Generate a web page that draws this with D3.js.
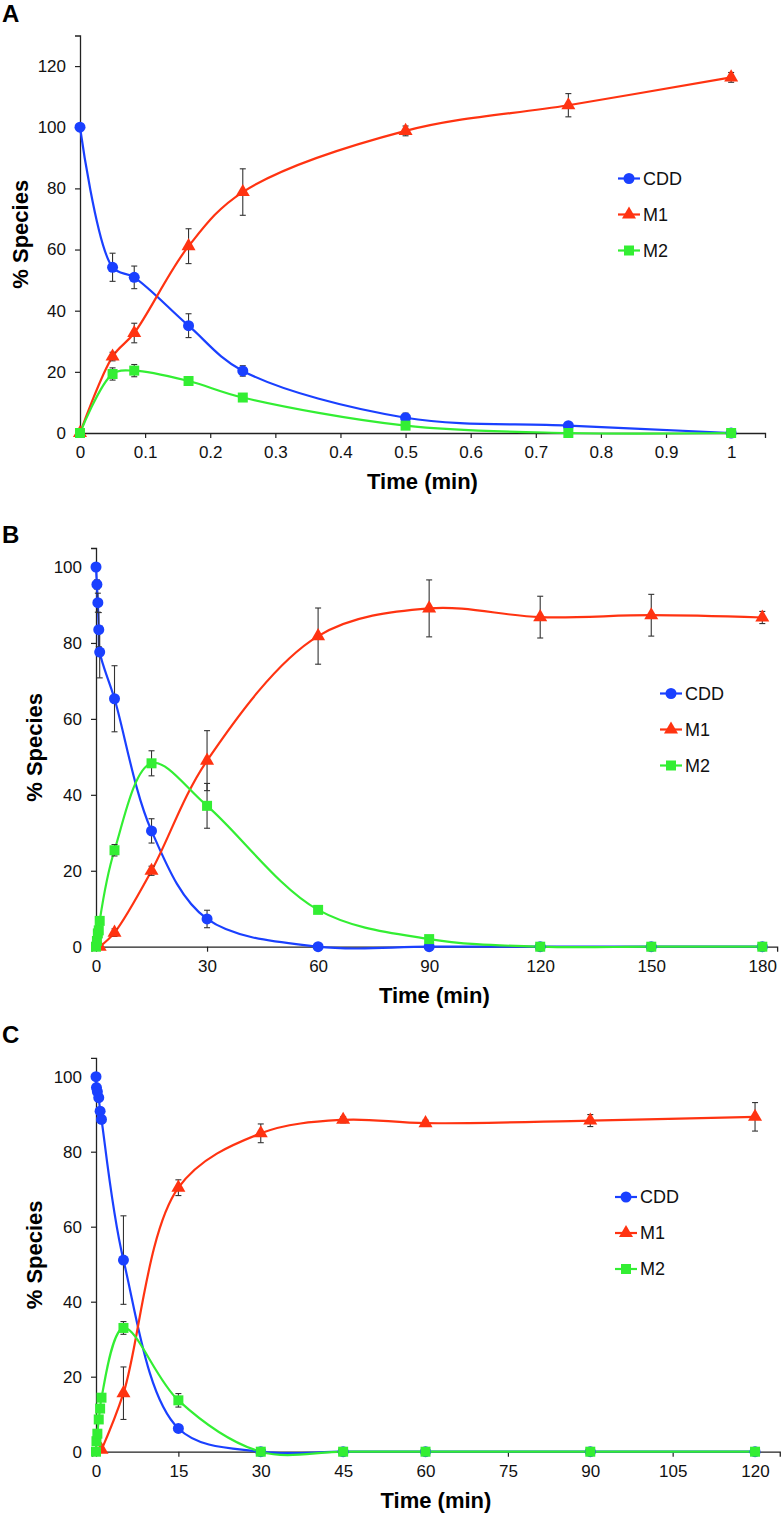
<!DOCTYPE html>
<html><head><meta charset="utf-8">
<script src="https://cdn.jsdelivr.net/npm/d3@7"></script>
<style>
html,body{margin:0;padding:0;background:#fff;}
svg{display:block;font-family:"Liberation Sans",Arial,sans-serif;}
</style></head>
<body>
<svg id="chart" width="782" height="1516"></svg>
<script>
// ---------- DATA ----------
const seriesNames = ["CDD", "M1", "M2"];

// Panel A
const timeA = [0, 0.05, 0.0833, 0.1667, 0.25, 0.5, 0.75, 1];
const cddA = [100, 54.2, 50.9, 35.1, 20.3, 5.0, 2.4, 0];
const cddErrA = [0, 4.6, 3.7, 3.9, 1.7, 1.5, 0.6, 0];
const m1A = [0, 25.0, 32.7, 61.1, 78.8, 98.8, 107.2, 116.3];
const m1ErrA = [0, 1.4, 3.2, 5.7, 7.6, 1.6, 3.8, 1.6];
const m2A = [0, 19.3, 20.4, 17.0, 11.6, 2.4, 0, 0];
const m2ErrA = [0, 2.0, 2.0, 1.0, 1.0, 0.5, 0, 0];
const xTicksA = [0, 0.1, 0.2, 0.3, 0.4, 0.5, 0.6, 0.7, 0.8, 0.9, 1];
const xTickLabelsA = ["0", "0.1", "0.2", "0.3", "0.4", "0.5", "0.6", "0.7", "0.8", "0.9", "1"];
const yTicksA = [0, 20, 40, 60, 80, 100, 120];

// Panel B
const timeB = [0, 0.25, 0.5, 0.75, 1, 5, 15, 30, 60, 90, 120, 150, 180];
const cddB = [100, 95.4, 90.6, 83.5, 77.6, 65.3, 30.5, 7.3, 0, 0, 0, 0, 0];
const cddErrB = [0, 1.2, 2.5, 4.5, 6.8, 8.7, 3.2, 2.3, 0, 0, 0, 0, 0];
const m1B = [null, null, null, null, 0, 3.7, 20.0, 49.0, 81.8, 89.1, 86.8, 87.3, 86.7];
const m1ErrB = [0, 0, 0, 0, 0, 1.0, 1.2, 7.9, 7.4, 7.5, 5.5, 5.5, 1.6];
const m2B = [0, 1.5, 3.5, 4.3, 6.8, 25.4, 48.3, 37.1, 9.7, 2.0, 0, 0, 0];
const m2ErrB = [0, 0.5, 0.8, 1.0, 1.0, 1.5, 3.3, 5.9, 0.8, 0.5, 0, 0, 0];
const xTicksB = [0, 30, 60, 90, 120, 150, 180];
const yTicksB = [0, 20, 40, 60, 80, 100];

// Panel C
const timeC = [0, 0.083, 0.25, 0.5, 0.75, 1, 5, 15, 30, 45, 60, 90, 120];
const cddC = [100, 97.1, 96.0, 94.4, 90.8, 88.6, 51.1, 6.2, 0, 0, 0, 0, 0];
const cddErrC = [0, 0, 0.5, 0.5, 1.0, 1.0, 11.8, 0.6, 0, 0, 0, 0, 0];
const m1C = [null, null, null, null, null, 0.5, 15.6, 70.4, 84.9, 88.5, 87.6, 88.3, 89.3];
const m1ErrC = [0, 0, 0, 0, 0, 0, 7.0, 2.1, 2.5, 0.8, 0.8, 1.6, 3.8];
const m2C = [0, 2.8, 4.8, 8.6, 11.5, 14.4, 33.0, 13.7, 0, 0, 0, 0, 0];
const m2ErrC = [0, 0, 0, 0, 0, 0.5, 1.7, 1.8, 0, 0, 0, 0, 0];
const xTicksC = [0, 15, 30, 45, 60, 75, 90, 105, 120];
const yTicksC = [0, 20, 40, 60, 80, 100];

// ---------- STYLE ----------
const colors = {CDD: "#1a40ff", M1: "#ff3311", M2: "#33ee33"};
const shapes = {CDD: d3.symbolCircle, M1: d3.symbolTriangle, M2: d3.symbolSquare};
const sizes = {CDD: 95, M1: 85, M2: 100};
const axisColor = "#222";
const errColor = "#333";

const svg = d3.select("#chart");

function drawPanel(cfg) {
  const g = svg.append("g");
  const x = d3.scaleLinear().domain(cfg.xDomain).range(cfg.xRange);
  const y = d3.scaleLinear().domain(cfg.yDomain).range(cfg.yRange);

  // panel letter
  g.append("text").attr("x", cfg.letterPos[0]).attr("y", cfg.letterPos[1])
    .attr("font-size", 24).attr("font-weight", "bold").attr("fill", "#000").text(cfg.letter);

  // axes
  const yAxis = d3.axisLeft(y).tickValues(cfg.yTicks).tickSizeOuter(0).tickSize(5).tickPadding(9)
    .tickFormat(d3.format("d"));
  const ya = g.append("g").attr("transform", `translate(${x(0)},0)`).call(yAxis);
  ya.select(".domain").attr("stroke", axisColor).attr("stroke-width", 1.3);
  ya.selectAll(".tick line").attr("stroke", axisColor).attr("stroke-width", 1.2);
  ya.selectAll(".tick text").attr("font-size", 17).attr("fill", "#111")
    .attr("font-family", '"Liberation Sans",Arial,sans-serif');

  const xAxis = d3.axisBottom(x).tickValues(cfg.xTicks).tickSizeOuter(0).tickSize(5).tickPadding(8)
    .tickFormat((d, i) => cfg.xTickLabels ? cfg.xTickLabels[i] : String(d));
  const xa = g.append("g").attr("transform", `translate(0,${y(0)})`).call(xAxis);
  xa.select(".domain").attr("stroke", axisColor).attr("stroke-width", 1.3);
  xa.selectAll(".tick line").attr("stroke", axisColor).attr("stroke-width", 1.2);
  xa.selectAll(".tick text").attr("font-size", 17).attr("fill", "#111")
    .attr("font-family", '"Liberation Sans",Arial,sans-serif');

  // axis titles
  g.append("text").attr("x", (cfg.xRange[0] + cfg.xRange[1]) / 2 + cfg.xTitleDx).attr("y", cfg.xTitleY)
    .attr("text-anchor", "middle").attr("font-size", 22).attr("font-weight", "bold")
    .attr("fill", "#000").text("Time (min)");
  g.append("text")
    .attr("transform", `translate(${cfg.yTitleX},${(cfg.yRange[0] + cfg.yRange[1]) / 2}) rotate(-90)`)
    .attr("text-anchor", "middle").attr("font-size", 22).attr("font-weight", "bold")
    .attr("fill", "#000").text("% Species");

  // series
  const line = d3.line().defined(d => d.v != null)
    .x(d => x(d.t)).y(d => y(d.v)).curve(d3.curveCatmullRom.alpha(0.5));

  cfg.series.forEach(s => {
    const pts = cfg.time.map((t, i) => ({t, v: s.values[i], e: s.err[i]}));
    const valid = pts.filter(p => p.v != null);
    g.append("path").datum(valid).attr("d", line).attr("fill", "none")
      .attr("stroke", colors[s.name]).attr("stroke-width", 2.2);
  });
  cfg.series.forEach(s => {
    const pts = cfg.time.map((t, i) => ({t, v: s.values[i], e: s.err[i]}))
      .filter(p => p.v != null);
    const eb = g.append("g");
    pts.filter(p => p.e > 0).forEach(p => {
      const cx = x(p.t), y1 = y(p.v + p.e), y2 = y(p.v - p.e);
      eb.append("line").attr("x1", cx).attr("x2", cx).attr("y1", y1).attr("y2", y2)
        .attr("stroke", errColor).attr("stroke-width", 1.1);
      [y1, y2].forEach(yy => eb.append("line").attr("x1", cx - 3).attr("x2", cx + 3)
        .attr("y1", yy).attr("y2", yy).attr("stroke", errColor).attr("stroke-width", 1.1));
    });
    g.append("g").selectAll("path").data(pts).join("path")
      .attr("transform", p => `translate(${x(p.t)},${y(p.v)})`)
      .attr("d", d3.symbol().type(shapes[s.name]).size(sizes[s.name]))
      .attr("fill", colors[s.name]);
  });

  // legend
  const lg = g.append("g");
  seriesNames.forEach((n, i) => {
    const ly = cfg.legend[1] + i * cfg.legendGap;
    const lx = cfg.legend[0];
    lg.append("line").attr("x1", lx).attr("x2", lx + 22).attr("y1", ly).attr("y2", ly)
      .attr("stroke", colors[n]).attr("stroke-width", 2.2);
    lg.append("path").attr("transform", `translate(${lx + 11},${ly})`)
      .attr("d", d3.symbol().type(shapes[n]).size(sizes[n])).attr("fill", colors[n]);
    lg.append("text").attr("x", lx + 25).attr("y", ly).attr("dy", "0.36em")
      .attr("font-size", 18).attr("fill", "#111").text(n);
  });
}

drawPanel({
  letter: "A", letterPos: [2, 22],
  xDomain: [0, 1.052], xRange: [80, 765],
  yDomain: [0, 130], yRange: [433, 35.5],
  xTicks: xTicksA, xTickLabels: xTickLabelsA, yTicks: yTicksA,
  time: timeA,
  series: [
    {name: "CDD", values: cddA, err: cddErrA},
    {name: "M1", values: m1A, err: m1ErrA},
    {name: "M2", values: m2A, err: m2ErrA}
  ],
  legend: [618, 178.5], legendGap: 36,
  xTitleDx: 0, xTitleY: 489, yTitleX: 28
});

drawPanel({
  letter: "B", letterPos: [2, 543],
  xDomain: [-1.2, 184], xRange: [96 - 1.2 * 3.7017, 96 + 184 * 3.7017],
  yDomain: [0, 105], yRange: [946.7, 946.7 - 105 * 3.797],
  xTicks: xTicksB, xTickLabels: null, yTicks: yTicksB,
  time: timeB,
  series: [
    {name: "CDD", values: cddB, err: cddErrB},
    {name: "M1", values: m1B, err: m1ErrB},
    {name: "M2", values: m2B, err: m2ErrB}
  ],
  legend: [660, 693.5], legendGap: 36,
  xTitleDx: 0, xTitleY: 1003, yTitleX: 42
});

drawPanel({
  letter: "C", letterPos: [2, 1043],
  xDomain: [-0.7, 124.5], xRange: [96 - 0.7 * 5.492, 96 + 124.5 * 5.492],
  yDomain: [0, 105], yRange: [1451.7, 1451.7 - 105 * 3.75],
  xTicks: xTicksC, xTickLabels: null, yTicks: yTicksC,
  time: timeC,
  series: [
    {name: "CDD", values: cddC, err: cddErrC},
    {name: "M1", values: m1C, err: m1ErrC},
    {name: "M2", values: m2C, err: m2ErrC}
  ],
  legend: [615, 1197], legendGap: 36,
  xTitleDx: 0, xTitleY: 1508, yTitleX: 42
});
</script>
</body></html>
